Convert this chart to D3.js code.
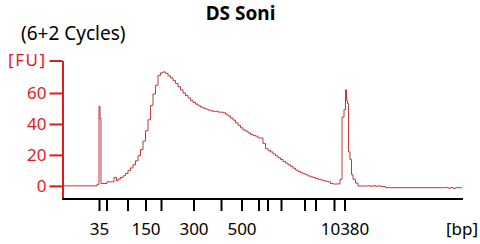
<!DOCTYPE html>
<html>
<head>
<meta charset="utf-8">
<script src="https://cdn.jsdelivr.net/npm/d3@7"></script>
<style>
  body { margin: 0; background: #fff; }
  svg text { font-family: "Noto Sans", sans-serif; }
</style>
</head>
<body>
<div id="chart"></div>
<script>
// electropherogram trace: migration time [s] and fluorescence [FU]
const traceTime = [40.0, 46.8, 47.2, 47.4, 47.6, 48.8, 50.2, 50.7, 51.0, 51.5,
  52.0, 52.5, 53.0, 53.5, 54.0, 54.5, 55.0, 55.5, 56.0, 56.5,
  57.0, 57.5, 58.0, 58.5, 59.0, 59.5, 60.0, 60.5, 61.0, 61.5,
  62.0, 62.5, 63.0, 63.5, 64.0, 64.5, 65.0, 65.5, 66.0, 66.5,
  67.0, 67.5, 68.0, 68.5, 69.0, 69.5, 70.0, 70.5, 71.0, 71.5,
  72.0, 72.5, 73.0, 73.5, 74.0, 74.5, 75.0, 75.5, 76.0, 76.5,
  77.0, 77.5, 78.0, 78.5, 79.0, 79.5, 80.0, 80.5, 81.0, 81.5,
  82.0, 82.5, 83.0, 83.5, 84.0, 84.5, 85.0, 85.5, 86.0, 86.5,
  87.0, 87.5, 88.0, 88.5, 89.0, 89.5, 90.0, 90.5, 91.0, 91.5,
  92.0, 92.5, 93.0, 93.5, 94.0, 94.5, 95.0, 95.4, 95.8, 96.2,
  96.5, 96.7, 96.9, 97.1, 97.4, 97.7, 98.0, 98.5, 99.0, 101.0,
  101.5, 102.0, 102.5, 103.0, 103.5, 104.5, 116.5, 117.0, 117.5, 118.0,
  118.5, 119.8];
const traceFU = [0, 1.0, 51.3, 43.5, 1.5, 2.6, 5.5, 3.2, 4.4, 5.4,
  6.5, 8.0, 10.0, 11.6, 13.6, 16.2, 19.5, 23.4, 28.9, 35.6,
  42.7, 52.0, 59.4, 65.0, 71.4, 73.0, 73.6, 72.7, 71.1, 69.8,
  68.1, 66.2, 64.1, 62.0, 60.0, 58.4, 56.8, 55.2, 53.9, 52.8,
  51.7, 50.9, 50.2, 49.6, 49.0, 48.5, 48.1, 48.2, 47.7, 47.6,
  47.2, 46.3, 45.2, 43.8, 42.5, 40.7, 39.1, 37.5, 36.1, 35.4,
  34.2, 33.2, 32.6, 32.1, 31.0, 30.9, 27.3, 24.2, 22.8, 21.9,
  20.6, 19.4, 18.2, 17.0, 15.8, 14.7, 13.6, 12.6, 11.4, 10.2,
  9.3, 8.5, 7.8, 7.1, 6.4, 5.8, 5.3, 4.8, 4.3, 3.8,
  3.4, 2.9, 2.6, 1.5, 1.2, 1.2, 1.3, 4.2, 44.4, 49.3,
  62.0, 55.2, 53.2, 21.9, 17.0, 7.2, 4.2, 1.8, -0.1, 0.0,
  -0.3, 0.1, -0.3, 0.0, -0.4, -1.2, -1.0, -1.5, -1.1, -1.6,
  -1.2, -1.2];

// ladder sizes and their migration times
const ladderBp = [35, 50, 100, 150, 200, 300, 400, 500, 600, 700, 1000, 2000, 3000, 7000, 10380];
const ladderTime = [47.2, 48.7, 52.9, 56.5, 59.6, 66.1, 71.6, 75.7, 79.1, 80.9, 83.6, 88.3, 90.5, 94.2, 96.3];
const labeledBp = [35, 150, 300, 500, 10380];

const yTicks = [0, 20, 40, 60];
const yTop = 81;

const width = 480, height = 244;
const red = "#e41a1c";

const svg = d3.select("#chart").append("svg")
  .attr("width", width).attr("height", height);

const x = d3.scaleLinear().domain([40, 120]).range([63, 463]);
const y = d3.scaleLinear().domain([-8.5, yTop]).range([199, 60.5]);

// title
svg.append("text")
  .attr("x", 240.5).attr("y", 20)
  .attr("text-anchor", "middle")
  .style("font-weight", "bold").style("font-size", "19px")
  .text("DS Soni");
svg.append("text")
  .attr("x", 21).attr("y", 39.5)
  .style("font-size", "19px")
  .text("(6+2 Cycles)");

// trace
const data = traceTime.map((t, i) => ({ t: t, v: traceFU[i] }));
svg.append("path")
  .datum(data)
  .attr("fill", "none")
  .attr("stroke", "#c0393b")
  .attr("stroke-width", 1)
  .attr("d", d3.line().x(d => x(d.t)).y(d => y(d.v)).curve(d3.curveStepAfter));

// y axis (red)
const yAxis = svg.append("g")
  .attr("transform", "translate(62.5,0)")
  .call(d3.axisLeft(y)
    .tickValues(yTicks.concat([yTop]))
    .tickSize(13).tickSizeOuter(0).tickPadding(3)
    .tickFormat(d => d === yTop ? "[FU]" : d));
yAxis.select(".domain").attr("stroke", red).attr("stroke-width", 2);
yAxis.selectAll(".tick line").attr("stroke", red).attr("stroke-width", 2);
yAxis.selectAll(".tick text")
  .attr("fill", red)
  .style("font-size", "17px")
  .style("font-family", "'Noto Sans', sans-serif")
  .style("letter-spacing", d => d === yTop ? "1.5px" : null);

// x axis (black), ladder positions
const xAxis = svg.append("g")
  .attr("transform", "translate(0,199)")
  .call(d3.axisBottom(x)
    .tickValues(ladderTime)
    .tickSize(12).tickSizeOuter(0)
    .tickFormat((d, i) => labeledBp.includes(ladderBp[i]) ? ladderBp[i] : ""));
xAxis.select(".domain").attr("d", "M" + (x.range()[0] - 1) + ",0H" + x.range()[1])
  .attr("stroke", "#000").attr("stroke-width", 2);
xAxis.selectAll(".tick line").attr("stroke", "#000").attr("stroke-width", 2).attr("y1", 1);
xAxis.selectAll(".tick text")
  .attr("y", 36).attr("dy", null)
  .attr("fill", "#000")
  .style("font-size", "17px")
  .style("font-family", "'Noto Sans', sans-serif");

svg.append("text")
  .attr("x", 478).attr("y", 235)
  .attr("text-anchor", "end")
  .style("font-size", "17px")
  .text("[bp]");
</script>
</body>
</html>
